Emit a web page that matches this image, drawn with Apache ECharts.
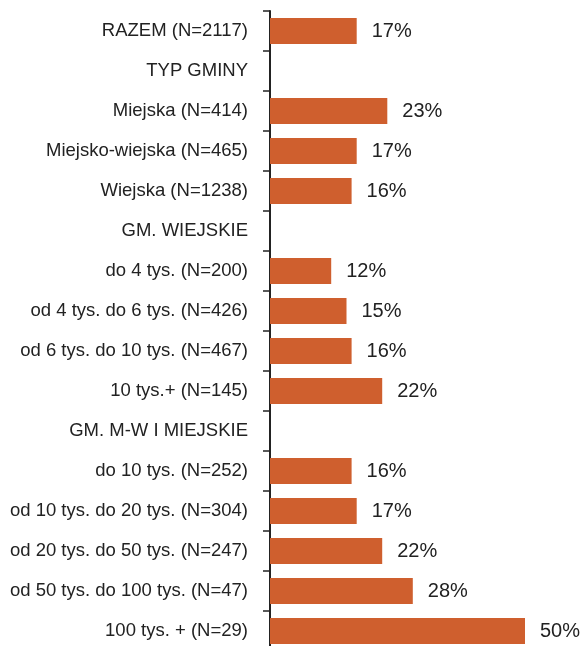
<!DOCTYPE html>
<html>
<head>
<meta charset="utf-8">
<script src="https://cdn.jsdelivr.net/npm/echarts@6/dist/echarts.min.js"></script>
<style>
  html, body { margin: 0; padding: 0; background: #fff; }
  #chart { width: 585px; height: 646px; }
</style>
</head>
<body>
<div id="chart"></div>
<script>
// Row labels, top to bottom (section headers have no bar)
const categories = [
  'RAZEM (N=2117)',
  'TYP GMINY',
  'Miejska (N=414)',
  'Miejsko-wiejska (N=465)',
  'Wiejska (N=1238)',
  'GM. WIEJSKIE',
  'do 4 tys. (N=200)',
  'od 4 tys. do 6 tys. (N=426)',
  'od 6 tys. do 10 tys. (N=467)',
  '10 tys.+ (N=145)',
  'GM. M-W I MIEJSKIE',
  'do 10 tys. (N=252)',
  'od 10 tys. do 20 tys. (N=304)',
  'od 20 tys. do 50 tys. (N=247)',
  'od 50 tys. do 100 tys. (N=47)',
  '100 tys. + (N=29)'
];

// Share in percent; null for header rows
const values = [17, null, 23, 17, 16, null, 12, 15, 16, 22, null, 16, 17, 22, 28, 50];

const chart = echarts.init(document.getElementById('chart'), null, { renderer: 'canvas' });

chart.setOption({
  animation: false,
  backgroundColor: '#ffffff',
  grid: {
    left: 270, top: 11, width: 306, height: 640,
    containLabel: false,
    outerBoundsMode: 'none'
  },
  xAxis: {
    type: 'value',
    min: 0,
    max: 60,
    show: false,
    splitLine: { show: false }
  },
  yAxis: {
    type: 'category',
    data: categories,
    inverse: true,
    axisLine: { show: true, lineStyle: { color: '#222', width: 2 } },
    axisTick: { show: true, length: 7, lineStyle: { color: '#222', width: 1.5 } },
    axisLabel: {
      margin: 22,
      color: '#222',
      fontSize: 18.5,
      fontFamily: '"Liberation Sans", Arial, Helvetica, sans-serif'
    }
  },
  series: [{
    type: 'bar',
    data: values,
    barWidth: 26,
    itemStyle: { color: '#CF5F2E' },
    label: {
      show: true,
      position: 'right',
      distance: 15,
      color: '#222',
      fontSize: 20,
      fontFamily: '"Liberation Sans", Arial, Helvetica, sans-serif',
      formatter: p => p.value == null ? '' : p.value + '%'
    }
  }]
});
</script>
</body>
</html>
